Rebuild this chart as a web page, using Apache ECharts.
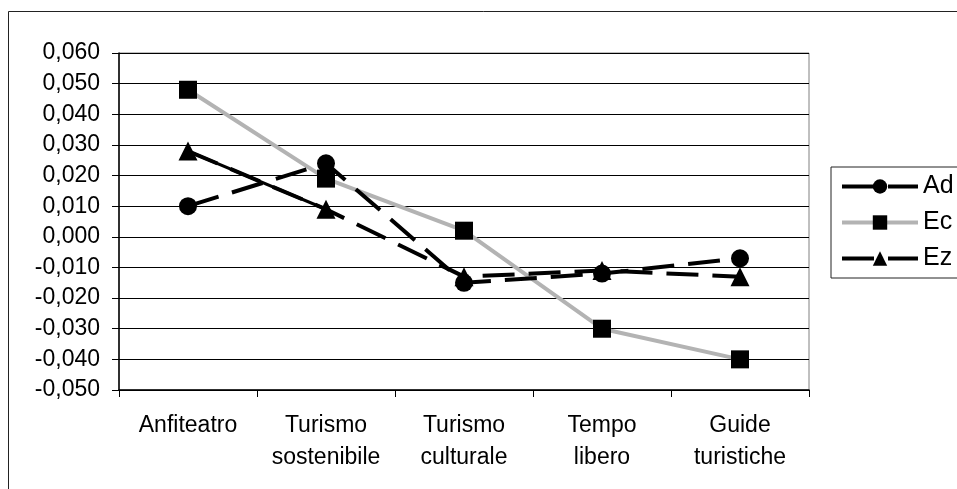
<!DOCTYPE html>
<html>
<head>
<meta charset="utf-8">
<script src="https://cdn.jsdelivr.net/npm/echarts@6/dist/echarts.min.js"></script>
<style>
  html, body { margin: 0; padding: 0; background: #fff; }
  #chart { width: 957px; height: 489px; }
</style>
</head>
<body>
<div id="chart"></div>
<script>
// Categories on the horizontal axis
const categories = ['Anfiteatro', 'Turismo\nsostenibile', 'Turismo\nculturale', 'Tempo\nlibero', 'Guide\nturistiche'];
// Series values
const adValues = [0.010, 0.024, -0.015, -0.012, -0.007];
const ecValues = [0.048, 0.019, 0.002, -0.030, -0.040];
const ezValues = [0.028, 0.009, -0.013, -0.011, -0.013];
// Value axis range
const yMin = -0.05;
const yMax = 0.06;
const yStep = 0.01;

const FONT = 'Liberation Sans, Arial, sans-serif';

function fmt(v) {
  if (Math.abs(v) < 1e-9) v = 0;
  return v.toFixed(3).replace('.', ',');
}

const dashPattern = [32, 14];

// Solid stretch of Ez between its first two points
const ezSolidPart = ezValues.map((v, i) => (i < 2 ? v : '-'));

const chart = echarts.init(document.getElementById('chart'), null, { renderer: 'canvas' });

chart.setOption({
  animation: false,
  backgroundColor: '#fff',
  graphic: [{
    type: 'rect',
    shape: { x: 8.5, y: 11.5, width: 2000, height: 2000 },
    style: { fill: 'none', stroke: '#222', lineWidth: 1 },
    silent: true,
    z: -10
  }],
  grid: {
    left: 119, right: 148, top: 53, bottom: 99,
    show: true, borderColor: '#808080', borderWidth: 1
  },
  legend: {
    data: ['Ad', 'Ec', 'Ez'],
    orient: 'vertical',
    left: 831, top: 167,
    padding: [7, 30, 7, 9],
    itemWidth: 76, itemHeight: 18, itemGap: 11,
    borderColor: '#222', borderWidth: 1,
    lineStyle: { width: 4 },
    textStyle: { fontFamily: FONT, fontSize: 25, lineHeight: 25, color: '#000' }
  },
  xAxis: {
    type: 'category',
    data: categories,
    boundaryGap: true,
    axisLine: { onZero: false, lineStyle: { color: '#000', width: 1.5 } },
    axisTick: { show: true, length: 7, inside: false, lineStyle: { color: '#000' } },
    axisLabel: { interval: 0, fontFamily: FONT, fontSize: 23, lineHeight: 32, color: '#000', margin: 20 },
    splitLine: { show: false }
  },
  yAxis: {
    type: 'value',
    min: yMin, max: yMax, interval: yStep,
    axisLine: { show: true, lineStyle: { color: '#000', width: 1.5 } },
    axisTick: { show: true, length: 7, lineStyle: { color: '#000' } },
    axisLabel: { fontFamily: FONT, fontSize: 23, color: '#000', margin: 19, formatter: fmt },
    splitLine: { show: true, lineStyle: { color: '#000', width: 1 } }
  },
  series: [
    {
      name: 'Ad', type: 'line', data: adValues,
      symbol: 'circle', symbolSize: 18,
      itemStyle: { color: '#000' },
      lineStyle: { color: '#000', width: 4, type: dashPattern },
      z: 4
    },
    {
      name: 'Ec', type: 'line', data: ecValues,
      symbol: 'rect', symbolSize: 18,
      itemStyle: { color: '#000' },
      lineStyle: { color: '#b3b3b3', width: 4 },
      z: 3
    },
    {
      name: 'Ez', type: 'line', data: ezValues,
      symbol: 'triangle', symbolSize: 19,
      itemStyle: { color: '#000' },
      lineStyle: { color: '#000', width: 4, type: dashPattern },
      z: 5
    },
    {
      name: 'Ez', type: 'line', data: ezSolidPart,
      symbol: 'none',
      lineStyle: { color: '#000', width: 3 },
      z: 2
    }
  ]
});
</script>
</body>
</html>
